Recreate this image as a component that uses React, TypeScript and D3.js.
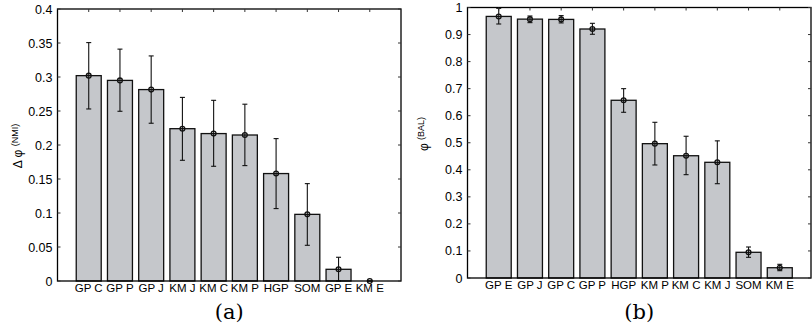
import React from 'react';
import * as d3 from 'd3';

// panel (a): delta phi (NMI)
const labelsA = ["GP C", "GP P", "GP J", "KM J", "KM C", "KM P", "HGP", "SOM", "GP E", "KM E"];
const meanA = [0.302, 0.295, 0.2815, 0.224, 0.2168, 0.2147, 0.158, 0.098, 0.0172, 0.0];
const lowA = [0.253, 0.2496, 0.232, 0.1775, 0.1687, 0.1697, 0.1065, 0.0525, 0.0, 0.0];
const highA = [0.3506, 0.341, 0.331, 0.270, 0.2657, 0.260, 0.2094, 0.1432, 0.0349, 0.0];
const ticksA = [0, 0.05, 0.1, 0.15, 0.2, 0.25, 0.3, 0.35, 0.4];

// panel (b): phi (BAL)
const labelsB = ["GP E", "GP J", "GP C", "GP P", "HGP", "KM P", "KM C", "KM J", "SOM", "KM E"];
const meanB = [0.967, 0.957, 0.956, 0.9205, 0.657, 0.4966, 0.452, 0.4277, 0.095, 0.038];
const lowB = [0.939, 0.944, 0.943, 0.901, 0.6126, 0.4178, 0.382, 0.3486, 0.0765, 0.027];
const highB = [0.997, 0.9686, 0.970, 0.9415, 0.700, 0.5756, 0.524, 0.507, 0.1146, 0.0506];
const ticksB = [0, 0.1, 0.2, 0.3, 0.4, 0.5, 0.6, 0.7, 0.8, 0.9, 1];

const FONT = "'Liberation Sans', Arial, sans-serif";

type PanelProps = {
  labels: string[]; mean: number[]; low: number[]; high: number[]; ticks: number[];
  yMax: number; left: number; right: number; top: number; bottom: number;
  ylab: string; ysup: string; labX: number; labY: number; caption: string;
};

const Panel = (p: PanelProps) => {
  const x = d3.scaleLinear().domain([0, p.labels.length + 1]).range([p.left, p.right]);
  const y = d3.scaleLinear().domain([0, p.yMax]).range([p.bottom, p.top]);
  const bw = (x(1) - x(0)) * 0.8;
  const fmt = (v: number) => String(+v.toFixed(2));
  const idx = d3.range(p.labels.length);
  return (
    <g>
      {idx.map(i => (
        <rect key={'b' + i} x={x(i + 1) - bw / 2} y={y(p.mean[i])} width={bw}
          height={p.bottom - y(p.mean[i])} fill="#c5c7cb" stroke="#111" strokeWidth={1.3} />
      ))}
      {idx.map(i => {
        const cx = x(i + 1);
        return (
          <g key={'e' + i} stroke="#111" strokeWidth={1.1} fill="none">
            <line x1={cx} x2={cx} y1={y(p.low[i])} y2={y(p.high[i])} />
            <line x1={cx - 2.5} x2={cx + 2.5} y1={y(p.low[i])} y2={y(p.low[i])} />
            <line x1={cx - 2.5} x2={cx + 2.5} y1={y(p.high[i])} y2={y(p.high[i])} />
            <circle cx={cx} cy={y(p.mean[i])} r={2.4} strokeWidth={1.3} />
          </g>
        );
      })}
      <rect x={p.left} y={p.top} width={p.right - p.left} height={p.bottom - p.top}
        fill="none" stroke="#000" strokeWidth={1.3} />
      {p.ticks.map(t => (
        <g key={'t' + t}>
          <line x1={p.left} x2={p.left + 3} y1={y(t)} y2={y(t)} stroke="#333" />
          <line x1={p.right - 3} x2={p.right} y1={y(t)} y2={y(t)} stroke="#333" />
          <text x={p.left - 5} y={y(t)} dy="0.36em" textAnchor="end" fontSize={12.5}
            fontFamily={FONT} fill="#000">{fmt(t)}</text>
        </g>
      ))}
      {idx.map(i => (
        <g key={'x' + i}>
          <line x1={x(i + 1)} x2={x(i + 1)} y1={p.top} y2={p.top + 3} stroke="#333" />
          <text x={x(i + 1)} y={p.bottom + 11} textAnchor="middle" fontSize={11.5}
            fontFamily={FONT} fill="#000">{p.labels[i]}</text>
        </g>
      ))}
      <text transform={`translate(${p.labX},${p.labY}) rotate(-90)`} textAnchor="middle"
        fontFamily={FONT} fontSize={12} fill="#000">
        {p.ylab}<tspan fontSize={9} dy={-4.5}>{p.ysup}</tspan>
      </text>
      <text x={(p.left + p.right) / 2} y={319} textAnchor="middle"
        fontFamily="'DejaVu Serif', serif" fontSize={21} fill="#000">{p.caption}</text>
    </g>
  );
};

export default function App() {
  return (
    <svg width={812} height={335} style={{ position: 'absolute', left: 0, top: 0, background: '#fff' }}>
      <Panel labels={labelsA} mean={meanA} low={lowA} high={highA} ticks={ticksA} yMax={0.4}
        left={57.5} right={401} top={9} bottom={281}
        ylab={"\u0394 \u03c6 "} ysup="(NMI)" labX={22} labY={146} caption="(a)" />
      <Panel labels={labelsB} mean={meanB} low={lowB} high={highB} ticks={ticksB} yMax={1}
        left={467.5} right={811} top={7.5} bottom={278}
        ylab={"\u03c6 "} ysup="(BAL)" labX={428} labY={134} caption="(b)" />
    </svg>
  );
}
